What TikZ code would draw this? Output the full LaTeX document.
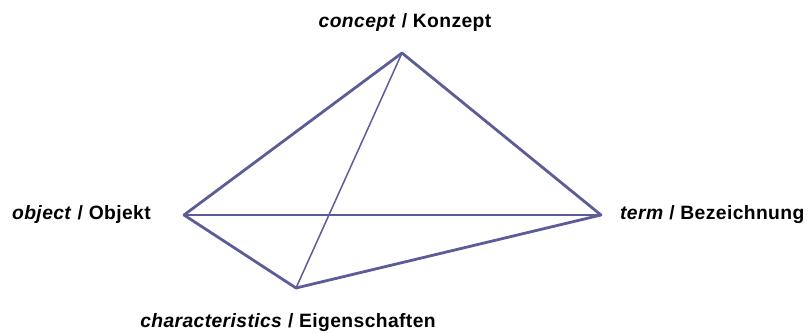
\documentclass[tikz,border=0pt]{standalone}
\usepackage{fontspec}
\setmainfont{Liberation Sans}[LetterSpace=2]
\begin{document}
\begin{tikzpicture}[x=1pt,y=-1pt,
  thickedge/.style={draw=edgecol,line width=2.8pt,line cap=round,line join=round},
  thinedge/.style={draw=edgecol,line width=1.5pt,line cap=round},
  lbl/.style={font=\fontsize{19.3}{21}\selectfont\bfseries,inner sep=0pt,text=black}]
\definecolor{edgecol}{RGB}{92,92,152}
\useasboundingbox (0,0) rectangle (809,333);
\coordinate (C) at (402,53);
\coordinate (O) at (184,215);
\coordinate (T) at (601,215);
\coordinate (E) at (296,288);
\draw[thinedge] (O) -- (T);
\draw[thinedge] (C) -- (E);
\draw[thickedge] (O) -- (C) -- (T);
\draw[thickedge] (O) -- (E) -- (T);
\node[lbl,anchor=base] (lc) at (405,27) {\textit{concept}\ /\ Konzept};
\node[lbl,anchor=east] (lo) at (151,215) {\textit{object}\ /\ Objekt};
\node[lbl,anchor=west] (lt) at (620,215) {\textit{term}\ /\ Bezeichnung};
\node[lbl,anchor=base] (le) at (288,327) {\textit{characteristics}\ /\ Eigenschaften};
\end{tikzpicture}
\end{document}
